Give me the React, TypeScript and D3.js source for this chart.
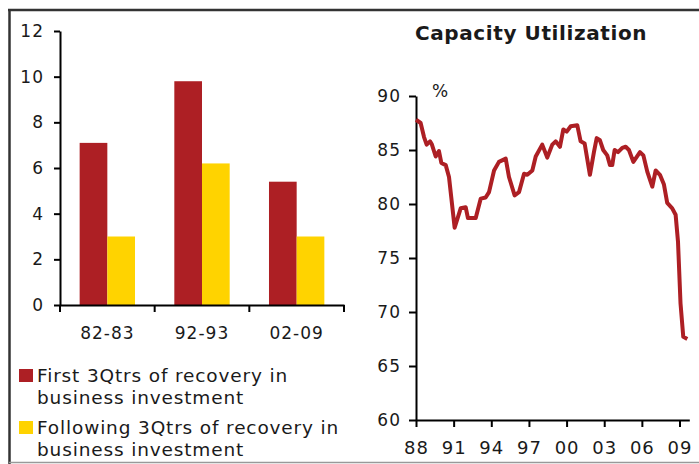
import React, { useRef, useEffect } from "react"
import * as d3 from "d3"

// left panel: business investment recoveries
const periods = ["82-83", "92-93", "02-09"]
const firstQtrs = [7.1, 9.8, 5.4]
const followingQtrs = [3.0, 6.2, 3.0]
const barTicks = [0, 2, 4, 6, 8, 10, 12]
const legendLabels = [
    ["First 3Qtrs of recovery in", "business investment"],
    ["Following 3Qtrs of recovery in", "business investment"],
]

// right panel: capacity utilization, %
const capYears = [
    1988.0, 1988.37, 1988.64, 1988.85, 1989.12, 1989.27, 1989.57, 1989.83, 1990.02, 1990.37,
    1990.63, 1991.08, 1991.56, 1991.96, 1992.14, 1992.76, 1993.16, 1993.55, 1993.82, 1994.22,
    1994.61, 1995.15, 1995.41, 1995.86, 1996.21, 1996.61, 1996.87, 1997.27, 1997.54, 1998.06,
    1998.46, 1998.86, 1999.13, 1999.47, 1999.74, 2000.01, 2000.33, 2000.85, 2001.12, 2001.44,
    2001.86, 2002.18, 2002.4, 2002.66, 2002.92, 2003.24, 2003.46, 2003.64, 2003.83, 2004.1,
    2004.44, 2004.71, 2004.97, 2005.32, 2005.85, 2006.12, 2006.43, 2006.83, 2007.1, 2007.44,
    2007.76, 2008.02, 2008.42, 2008.69, 2008.88, 2009.08, 2009.3, 2009.62,
]
const capValues = [
    87.8, 87.5, 86.2, 85.5, 85.8, 85.5, 84.4, 84.9, 83.8, 83.6,
    82.5, 77.8, 79.6, 79.7, 78.7, 78.7, 80.5, 80.6, 81.1, 83.1,
    83.9, 84.2, 82.5, 80.8, 81.1, 82.8, 82.7, 83.1, 84.4, 85.5,
    84.3, 85.5, 85.8, 85.3, 86.9, 86.7, 87.2, 87.3, 85.8, 85.6,
    82.7, 84.8, 86.1, 85.9, 85.0, 84.5, 83.6, 83.6, 85.0, 84.8,
    85.2, 85.3, 85.0, 83.9, 84.8, 84.5, 83.0, 81.6, 83.1, 82.7,
    81.8, 80.1, 79.6, 79.0, 76.5, 70.8, 67.7, 67.5,
]
const capTicks = [60, 65, 70, 75, 80, 85, 90]
const yearTicks = [1988, 1991, 1994, 1997, 2000, 2003, 2006, 2009]
const yearLabels = ["88", "91", "94", "97", "00", "03", "06", "09"]

const RED = "#AD1F24"
const YELLOW = "#FFD300"
const INK = "#1a1a1a"
const FONT = "Verdana, 'DejaVu Sans', sans-serif"

const styleAxis = (g, size) => {
    g.attr("font-family", FONT).attr("font-size", size)
    g.select(".domain").attr("stroke", "#000").attr("stroke-width", 2)
    g.selectAll(".tick line").attr("stroke", "#000").attr("stroke-width", 2)
    g.selectAll(".tick text").attr("fill", INK).attr("letter-spacing", 1)
}

const App = () => {
    const ref = useRef(null)

    useEffect(() => {
        const svg = d3.select(ref.current)
        svg.selectAll("*").remove()

        // frame
        svg.append("line").attr("x1", 8).attr("x2", 699).attr("y1", 10).attr("y2", 10)
            .attr("stroke", "#333").attr("stroke-width", 2.5)
        svg.append("line").attr("x1", 9.5).attr("x2", 9.5).attr("y1", 9).attr("y2", 464)
            .attr("stroke", "#333").attr("stroke-width", 2.5)
        svg.append("line").attr("x1", 9).attr("x2", 699).attr("y1", 462.5).attr("y2", 462.5)
            .attr("stroke", "#999").attr("stroke-width", 1.5)

        // ---- left: bars
        const x = d3.scaleBand().domain(periods).range([60, 344])
        const xs = d3.scaleBand().domain(["first", "following"])
            .range([0, x.bandwidth()]).paddingOuter(0.71)
        const y = d3.scaleLinear().domain([0, 12]).range([305, 31])

        const series = [
            { key: "first", values: firstQtrs, color: RED },
            { key: "following", values: followingQtrs, color: YELLOW },
        ]
        series.forEach(s => {
            svg.append("g").selectAll("rect")
                .data(periods)
                .enter()
                .append("rect")
                .attr("x", p => x(p) + xs(s.key))
                .attr("width", xs.bandwidth())
                .attr("y", (p, i) => y(s.values[i]))
                .attr("height", (p, i) => y(0) - y(s.values[i]))
                .attr("fill", s.color)
        })

        svg.append("g")
            .attr("transform", "translate(60,0)")
            .call(d3.axisLeft(y).tickValues(barTicks).tickSize(6).tickSizeOuter(0).tickPadding(10))
            .call(g => styleAxis(g, 17))

        svg.append("g")
            .attr("transform", "translate(0,305)")
            .call(d3.axisBottom(x).tickSize(0).tickSizeOuter(0).tickPadding(22))
            .call(g => styleAxis(g, 17))

        const edges = periods.map(p => x(p)).concat([x.range()[1]])
        svg.append("g").selectAll("line")
            .data(edges)
            .enter()
            .append("line")
            .attr("x1", d => d).attr("x2", d => d)
            .attr("y1", 305).attr("y2", 312)
            .attr("stroke", "#000").attr("stroke-width", 2)

        // legend
        const legend = svg.append("g").attr("font-family", FONT).attr("font-size", 18.5).attr("fill", INK)
        legendLabels.forEach((lines, i) => {
            const top = 369 + i * 52
            legend.append("rect").attr("x", 19).attr("y", top).attr("width", 14).attr("height", 13)
                .attr("fill", series[i].color)
            const t = legend.append("text").attr("x", 37).attr("y", top + 13).attr("letter-spacing", 0.85)
            lines.forEach((line, j) => {
                t.append("tspan").attr("x", 37).attr("dy", j === 0 ? 0 : 22).text(line)
            })
        })

        // ---- right: capacity utilization
        const xr = d3.scaleLinear().domain([1988, 2009.78]).range([416, 689.3])
        const yr = d3.scaleLinear().domain([60, 90]).range([420, 96])

        svg.append("text")
            .attr("x", 531).attr("y", 40)
            .attr("text-anchor", "middle")
            .attr("font-family", FONT).attr("font-size", 20).attr("font-weight", "bold")
            .attr("letter-spacing", 0.6)
            .attr("fill", INK)
            .text("Capacity Utilization")

        svg.append("text")
            .attr("x", 440).attr("y", 97)
            .attr("text-anchor", "middle")
            .attr("font-family", FONT).attr("font-size", 17)
            .attr("fill", INK)
            .text("%")

        svg.append("g")
            .attr("transform", "translate(416,0)")
            .call(d3.axisLeft(yr).tickValues(capTicks).tickSize(7).tickSizeOuter(0).tickPadding(8))
            .call(g => styleAxis(g, 17))

        svg.append("g")
            .attr("transform", "translate(0,420)")
            .call(d3.axisBottom(xr).tickValues(yearTicks).tickFormat((d, i) => yearLabels[i])
                .tickSize(7).tickSizeOuter(0).tickPadding(14))
            .call(g => styleAxis(g, 18))

        const line = d3.line()
            .x((d, i) => xr(capYears[i]))
            .y(d => yr(d))

        svg.append("path")
            .datum(capValues)
            .attr("d", line)
            .attr("fill", "none")
            .attr("stroke", RED)
            .attr("stroke-width", 4)
            .attr("stroke-linejoin", "round")
    }, [])

    return (
        <svg ref={ref} width={699} height={464}
            style={{ position: "absolute", left: 0, top: 0, background: "#fff" }} />
    )
}

export default App
